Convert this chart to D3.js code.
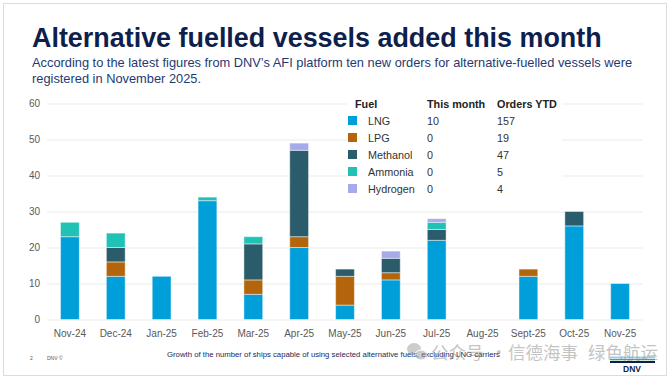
<!DOCTYPE html>
<html><head><meta charset="utf-8">
<script src="https://cdn.jsdelivr.net/npm/d3@7/dist/d3.min.js"></script>
<style>html,body{margin:0;padding:0;background:#fff;}svg{display:block;font-family:"Liberation Sans",Arial,sans-serif;}</style>
</head><body>
<script>
const months = ["Nov-24","Dec-24","Jan-25","Feb-25","Mar-25","Apr-25","May-25","Jun-25","Jul-25","Aug-25","Sept-25","Oct-25","Nov-25"];
const fuels = ["LNG","LPG","Methanol","Ammonia","Hydrogen"];
const lng      = [23,12,12,33,7,20,4,11,22,0,12,26,10];
const lpg      = [0,4,0,0,4,3,8,2,0,0,2,0,0];
const methanol = [0,4,0,0,10,24,2,4,3,0,0,4,0];
const ammonia  = [4,4,0,1,2,0,0,0,2,0,0,0,0];
const hydrogen = [0,0,0,0,0,2,0,2,1,0,0,0,0];
const thisMonth = [10,0,0,0,0];
const ordersYTD = [157,19,47,5,4];
const yTicks = [0,10,20,30,40,50,60];
const colors = ["#009FDA","#B4650B","#2A5C6C","#1FC2B5","#A5AAEA"];

const W=670,H=380;
const svg=d3.select("body").append("svg").attr("width",W).attr("height",H);
svg.append("rect").attr("x",3.5).attr("y",3.5).attr("width",W-7).attr("height",H-8).attr("fill","#fff").attr("stroke","#dcdcdc");

function fitText(sel,target){const n=sel.node();const l=n.getComputedTextLength();const fs=parseFloat(sel.attr("font-size"));sel.attr("font-size",(fs*target/l).toFixed(2));}

const title=svg.append("text").attr("x",32).attr("y",47).attr("font-size",27).attr("font-weight","bold").attr("fill","#0E1F4D").text("Alternative fuelled vessels added this month");
fitText(title,570);
const s1=svg.append("text").attr("x",32).attr("y",67).attr("font-size",13).attr("fill","#1F3A72").text("According to the latest figures from DNV\u2019s AFI platform ten new orders for alternative-fuelled vessels were");
fitText(s1,600);
svg.append("text").attr("x",32).attr("y",83).attr("font-size",s1.attr("font-size")).attr("fill","#1F3A72").text("registered in November 2025.");

const table = months.map((m,i)=>({month:m,LNG:lng[i],LPG:lpg[i],Methanol:methanol[i],Ammonia:ammonia[i],Hydrogen:hydrogen[i]}));
const x=d3.scaleBand().domain(months).range([47,643]).paddingInner(0.59).paddingOuter(0.295);
const y=d3.scaleLinear().domain([0,60]).range([319.5,103.5]);

const yAxis=svg.append("g").attr("transform","translate(47,0)").call(d3.axisLeft(y).tickValues(yTicks).tickSize(-596).tickPadding(7));
yAxis.select(".domain").remove();
yAxis.selectAll("line").attr("stroke","#ebebeb");
yAxis.selectAll("text").attr("fill","#595959").attr("font-size",10).attr("font-family","Liberation Sans, Arial, sans-serif");

const stack=d3.stack().keys(fuels)(table);
const color=d3.scaleOrdinal().domain(fuels).range(colors);
svg.append("g").selectAll("g").data(stack).join("g").attr("fill",d=>color(d.key))
 .selectAll("rect").data(d=>d.filter(p=>p[1]>p[0])).join("rect")
 .attr("x",d=>x(d.data.month)).attr("width",x.bandwidth())
 .attr("y",d=>y(d[1])).attr("height",d=>y(d[0])-y(d[1]))
 .attr("stroke","rgba(255,255,255,0.45)").attr("stroke-width",1);

const xAxis=svg.append("g").attr("transform","translate(0,319.5)").call(d3.axisBottom(x).tickSize(0).tickPadding(10));
xAxis.select(".domain").remove();
xAxis.selectAll("text").attr("fill","#595959").attr("font-size",10).attr("font-family","Liberation Sans, Arial, sans-serif");

// legend table
const lg=svg.append("g");
lg.append("rect").attr("x",347).attr("y",94).attr("width",215).attr("height",104).attr("fill","#fff");
const hdr=[["Fuel",355],["This month",427],["Orders YTD",497]];
lg.selectAll("text.h").data(hdr).join("text").attr("class","h").attr("x",d=>d[1]).attr("y",108).attr("font-size",10.8).attr("font-weight","bold").attr("fill","#222").text(d=>d[0]);
const rows=lg.selectAll("g.r").data(fuels).join("g").attr("class","r").attr("transform",(d,i)=>`translate(0,${121+i*17})`);
rows.append("rect").attr("x",348).attr("y",-5).attr("width",9).attr("height",9).attr("fill",d=>color(d));
rows.append("text").attr("x",368).attr("y",4).attr("font-size",10.8).attr("fill","#333").text(d=>d);
rows.append("text").attr("x",427).attr("y",4).attr("font-size",10.8).attr("fill","#333").text((d,i)=>thisMonth[i]);
rows.append("text").attr("x",497).attr("y",4).attr("font-size",10.8).attr("fill","#333").text((d,i)=>ordersYTD[i]);

// footer
svg.append("text").attr("x",30).attr("y",360).attr("font-size",5).attr("fill","#555").text("2");
svg.append("text").attr("x",47).attr("y",360).attr("font-size",5).attr("fill","#555").text("DNV \u00A9");
const cap=svg.append("text").attr("x",167).attr("y",357).attr("font-size",7.5).attr("fill","#1B2A5A").text("Growth of the number of ships capable of using selected alternative fuels, excluding LNG carriers");
fitText(cap,333);

// DNV logo
const logo=svg.append("g");
[["#8FD3EE",356.5,2],["#3CB44B",359,1.2],["#0E1F4D",361,2]].forEach(l=>logo.append("rect").attr("x",610).attr("y",l[1]).attr("width",45).attr("height",l[2]).attr("fill",l[0]));
logo.append("text").attr("x",632).attr("y",372).attr("text-anchor","middle").attr("font-size",8.5).attr("font-weight","bold").attr("fill","#0E1F4D").text("DNV");

// watermark
const wm=svg.append("g").attr("opacity",0.5);
wm.append("ellipse").attr("cx",414).attr("cy",349).attr("rx",7).attr("ry",6).attr("fill","#9a9a9a");
wm.append("ellipse").attr("cx",421).attr("cy",355).attr("rx",6).attr("ry",5).attr("fill","#9a9a9a").attr("stroke","#fff").attr("stroke-width",1);
[["公众号",431],["·",490],["信德海事",508],["绿色航运",588]].forEach(w=>wm.append("text").attr("x",w[1]).attr("y",359).attr("font-size",17.5).attr("fill","#8a8a8a").attr("font-family","Noto Sans CJK SC").text(w[0]));
</script>
</body></html>
